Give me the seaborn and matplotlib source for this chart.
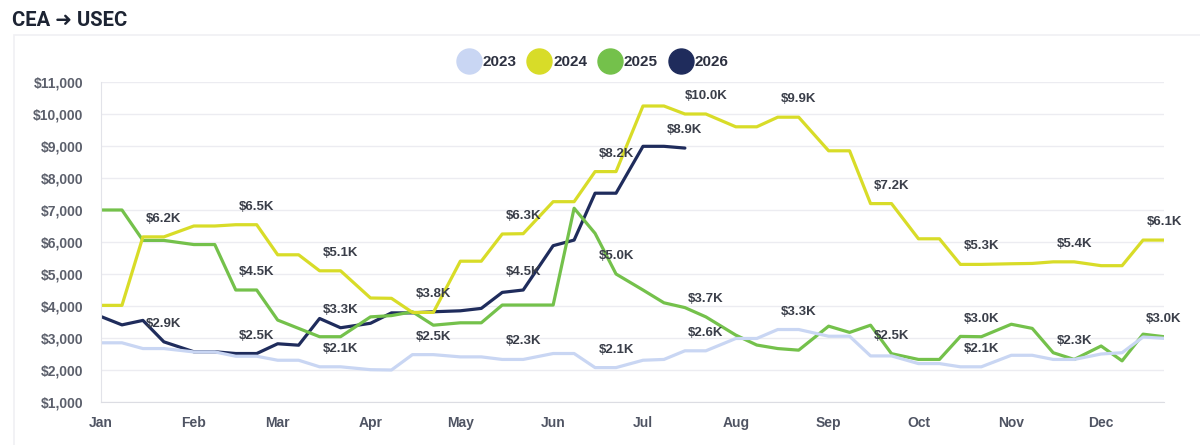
import datetime
import pandas as pd
import seaborn as sns
import matplotlib.pyplot as plt
from matplotlib.lines import Line2D
from matplotlib.patches import Rectangle

# samples taken on the 1st, 8th, 15th and 22nd of every month
months = ['Jan', 'Feb', 'Mar', 'Apr', 'May', 'Jun', 'Jul', 'Aug', 'Sep', 'Oct', 'Nov', 'Dec']
days = [1, 8, 15, 22]

years = ['2023', '2024', '2025', '2026']
colors = ['#c9d6f3', '#d8dc28', '#74c14b', '#1f2c5c']

rates_2023 = [2850, 2850, 2670, 2670, 2565, 2565, 2430, 2430, 2305, 2305, 2100, 2100,
              2010, 2000, 2480, 2480, 2410, 2410, 2330, 2330, 2515, 2515, 2075, 2075,
              2305, 2330, 2600, 2600, 2985, 2985, 3265, 3265, 3055, 3055, 2440, 2440,
              2200, 2200, 2100, 2100, 2460, 2460, 2330, 2330, 2500, 2540, 3030, 2990]
rates_2024 = [4020, 4020, 6160, 6160, 6500, 6500, 6540, 6540, 5600, 5600, 5100, 5100,
              4250, 4240, 3800, 3800, 5400, 5400, 6250, 6260, 7260, 7260, 8200, 8200,
              10250, 10250, 10000, 10000, 9600, 9600, 9900, 9900, 8850, 8850, 7200, 7200,
              6100, 6100, 5300, 5300, 5320, 5330, 5380, 5380, 5260, 5260, 6060, 6060]
rates_2025 = [7000, 7000, 6050, 6050, 5920, 5920, 4500, 4500, 3560, 3300, 3040, 3040,
              3660, 3700, 3820, 3400, 3475, 3475, 4030, 4030, 4030, 7055, 6270, 5000,
              4500, 4100, 3950, 3660, 3090, 2780, 2670, 2620, 3370, 3175, 3400, 2510,
              2330, 2330, 3050, 3040, 3430, 3300, 2540, 2330, 2750, 2285, 3120, 3040]
rates_2026 = [3670, 3410, 3550, 2880, 2570, 2570, 2515, 2515, 2820, 2775, 3610, 3320,
              3460, 3785, 3785, 3820, 3850, 3925, 4425, 4500, 5885, 6060, 7525, 7525,
              8990, 8990, 8935]

# value labels that survive the overlap hiding (point indices)
shown = {
    '2023': [11, 15, 19, 23, 27, 31, 39, 43],
    '2024': [3, 7, 11, 15, 19, 23, 27, 31, 35, 39, 43, 47],
    '2025': [7, 23, 27, 35, 39, 47],
    '2026': [3, 7, 11, 19, 26],
}

dates = [pd.Timestamp(2023, m + 1, d) for m in range(12) for d in days]
series = dict(zip(years, [rates_2023, rates_2024, rates_2025, rates_2026]))

df = pd.concat([pd.DataFrame({'date': dates[:len(v)], 'rate': v, 'year': y})
                for y, v in series.items()], ignore_index=True)

sns.set_style('white')
plt.rcParams['font.family'] = ['Liberation Sans', 'DejaVu Sans']

fig = plt.figure(figsize=(12, 4.45), dpi=100)
# faint card behind the chart
fig.patches.append(Rectangle((14 / 1200, -0.1), 2.0, 1.1 - 35 / 445, transform=fig.transFigure,
                             facecolor='white', edgecolor='#f0f0f3', lw=1.2, zorder=-10))
ax = fig.add_axes([101 / 1200, 43 / 445, (1164 - 101) / 1200, (402 - 82) / 445])
ax.set_facecolor('none')

palette = dict(zip(years, colors))
# chart draws the first dataset on top
sns.lineplot(data=df, x='date', y='rate', hue='year', hue_order=years[::-1],
             palette=palette, linewidth=2.3, legend=False, ax=ax)

for y, v in series.items():
    for i in shown[y]:
        ax.annotate(f'${v[i] / 1000:.1f}K', (dates[i], v[i]), xytext=(0, 18),
                    textcoords='offset pixels', ha='center', va='center',
                    fontsize=9.5, fontweight='bold', color='#3a3e49')

ax.set_xlim(dates[0], dates[-1])
ax.set_ylim(1000, 11000)
ax.set_yticks(range(1000, 11001, 1000))
ax.set_yticklabels([f'${t:,}' for t in range(1000, 11001, 1000)])
ax.set_xticks([pd.Timestamp(2023, m + 1, 1) for m in range(12)])
ax.set_xticklabels(months)
ax.set_xlabel('')
ax.set_ylabel('')

ax.yaxis.grid(True, color='#ececf1', lw=1)
ax.xaxis.grid(False)
for s in ['top', 'right']:
    ax.spines[s].set_visible(False)
ax.spines['left'].set_color('#e2e3e9')
ax.spines['bottom'].set_color('#dcdde3')
ax.tick_params(axis='y', length=9, color='#e6e7ec', labelcolor='#5b5f6b', labelsize=10, pad=4)
ax.tick_params(axis='x', length=0, labelcolor='#4f5463', labelsize=10, pad=10)
for lab in ax.get_xticklabels() + ax.get_yticklabels():
    lab.set_fontweight('bold')

handles = [Line2D([], [], ls='', marker='o', markersize=18, markerfacecolor=c, markeredgecolor=c)
           for c in colors]
fig.legend(handles, years, loc='center', bbox_to_anchor=(594 / 1200, 1 - 62 / 445), ncol=4,
           frameon=False, handletextpad=0.3, columnspacing=0.9, handlelength=1.2,
           prop={'weight': 'bold', 'size': 11}, labelcolor='#2c3040')

fig.text(12 / 1200, 1 - 20 / 445, 'CEA ➜ USEC', fontsize=14.5, fontweight='bold',
         family=['Roboto', 'DejaVu Sans'], va='center', color='#1d2433')

fig.savefig('out.png', dpi=100)
